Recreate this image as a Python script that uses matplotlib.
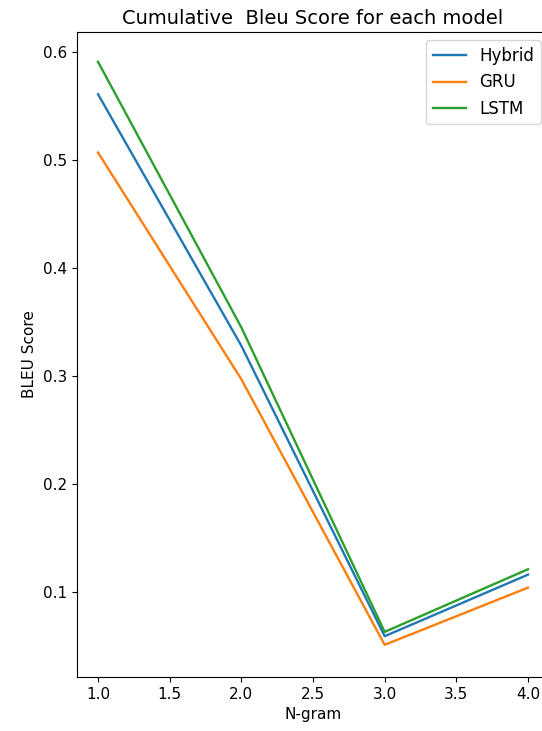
import matplotlib
matplotlib.use("Agg")
import matplotlib.pyplot as plt

ngram = [1.0, 2.0, 3.0, 4.0]
hybrid = [0.561, 0.328, 0.059, 0.116]
gru = [0.507, 0.297, 0.051, 0.104]
lstm = [0.591, 0.345, 0.063, 0.121]

fig = plt.figure(figsize=(5.42, 7.31), dpi=100)
ax = fig.add_axes([0.142, 0.074, 0.871, 0.882])

ax.plot(ngram, hybrid, label="Hybrid", color="#1f77b4", linewidth=1.7)
ax.plot(ngram, gru, label="GRU", color="#ff7f0e", linewidth=1.7)
ax.plot(ngram, lstm, label="LSTM", color="#2ca02c", linewidth=1.7)

ax.set_xlim(0.853, 4.147)
ax.set_ylim(0.0213, 0.6185)
ax.set_xticks([1.0, 1.5, 2.0, 2.5, 3.0, 3.5, 4.0])
ax.set_yticks([0.1, 0.2, 0.3, 0.4, 0.5, 0.6])
ax.tick_params(labelsize=11)

ax.set_title("Cumulative  Bleu Score for each model", fontsize=14)
ax.set_xlabel("N-gram", fontsize=11)
ax.set_ylabel("BLEU Score", fontsize=11)
ax.legend(loc="upper right", fontsize=12)

fig.savefig("out.png", dpi=100)
